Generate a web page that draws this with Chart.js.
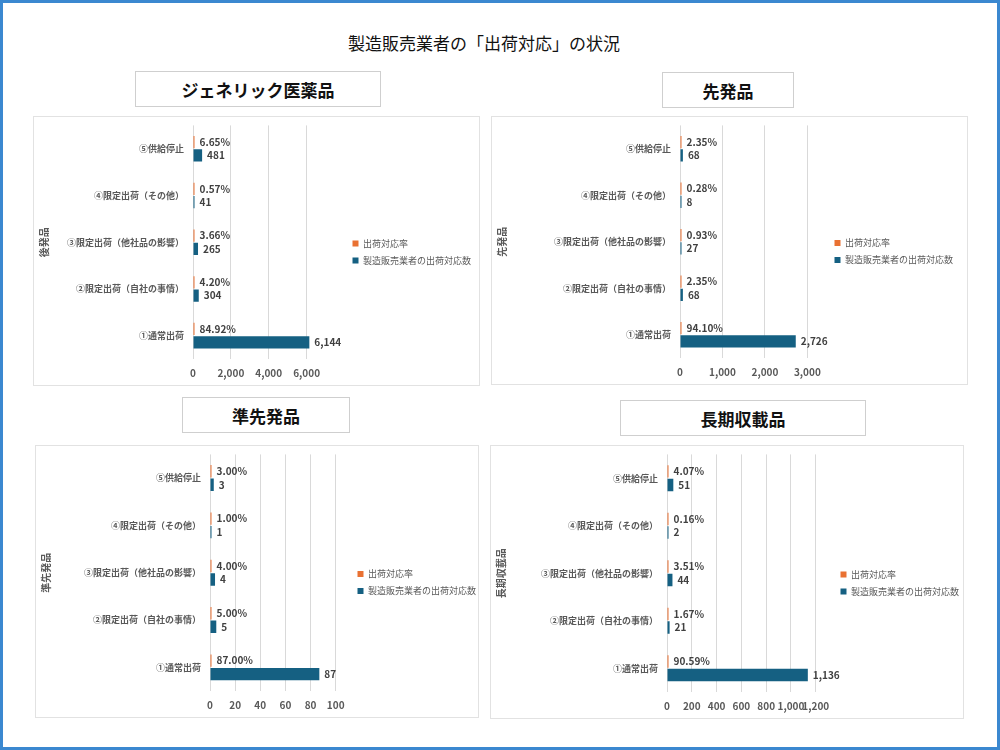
<!DOCTYPE html>
<html lang="ja">
<head>
<meta charset="utf-8">
<title>製造販売業者の「出荷対応」の状況</title>
<script src="https://cdn.jsdelivr.net/npm/chart.js@4.4.1/dist/chart.umd.min.js"></script>
<style>
  body { margin: 0; width: 1000px; height: 750px; position: relative; background: #fff; font-family: "Noto Sans CJK JP", sans-serif; overflow: hidden; }
  #frame { position: absolute; left: 0; top: 0; width: 994px; height: 744px; border: 3px solid #3b88d0; }
  #mainTitle { position: absolute; left: 0; width: 968px; top: 30px; text-align: center; font-size: 17px; color: #111; }
  .ttl { position: absolute; border: 1.5px solid #cfcfcf; box-sizing: border-box; text-align: center; font-weight: bold; font-size: 17px; color: #111; }
  .box { position: absolute; border: 1px solid #e2e2e2; box-sizing: border-box; }
  .box canvas { position: absolute; left: 0; top: 0; }
</style>
</head>
<body>
<div id="frame"></div>
<div id="mainTitle">製造販売業者の「出荷対応」の状況</div>

<div class="ttl" style="left:135px;top:71px;width:246px;height:36px;line-height:36px;">ジェネリック医薬品</div>
<div class="ttl" style="left:662px;top:72px;width:132px;height:36px;line-height:36px;">先発品</div>
<div class="ttl" style="left:182px;top:397px;width:168px;height:36px;line-height:36px;">準先発品</div>
<div class="ttl" style="left:620px;top:400px;width:246px;height:36px;line-height:36px;">長期収載品</div>

<div class="box" style="left:33px;top:116px;width:447px;height:270px;"><canvas id="c1" width="447" height="270"></canvas></div>
<div class="box" style="left:491px;top:116px;width:477px;height:269px;"><canvas id="c2" width="477" height="269"></canvas></div>
<div class="box" style="left:35px;top:445px;width:444px;height:273px;"><canvas id="c3" width="444" height="273"></canvas></div>
<div class="box" style="left:490px;top:445px;width:474px;height:274px;"><canvas id="c4" width="474" height="274"></canvas></div>

<script>
// 区分
const categories = ["①通常出荷", "②限定出荷（自社の事情）", "③限定出荷（他社品の影響）", "④限定出荷（その他）", "⑤供給停止"];
const seriesNames = ["出荷対応率", "製造販売業者の出荷対応数"];

// ジェネリック医薬品（後発品）
const genericRate = [0.8492, 0.0420, 0.0366, 0.0057, 0.0665];
const genericCount = [6144, 304, 265, 41, 481];
const genericTicks = [0, 2000, 4000, 6000];

// 先発品
const brandRate = [0.9410, 0.0235, 0.0093, 0.0028, 0.0235];
const brandCount = [2726, 68, 27, 8, 68];
const brandTicks = [0, 1000, 2000, 3000];

// 準先発品
const quasiRate = [0.87, 0.05, 0.04, 0.01, 0.03];
const quasiCount = [87, 5, 4, 1, 3];
const quasiTicks = [0, 20, 40, 60, 80, 100];

// 長期収載品
const longRate = [0.9059, 0.0167, 0.0351, 0.0016, 0.0407];
const longCount = [1136, 21, 44, 2, 51];
const longTicks = [0, 200, 400, 600, 800, 1000, 1200];

const FONT = '"Noto Sans CJK JP", sans-serif';
const ORANGE = "#e97132";
const BLUE = "#156082";

// 棒の先に値を書く
const valueLabels = {
    id: "valueLabels",
    afterDatasetsDraw(chart) {
        const ctx = chart.ctx;
        ctx.save();
        ctx.font = "bold 10px " + FONT;
        ctx.fillStyle = "#404040";
        ctx.textAlign = "left";
        ctx.textBaseline = "middle";
        chart.data.datasets.forEach((ds, i) => {
            chart.getDatasetMeta(i).data.forEach((bar, j) => {
                const v = ds.data[j];
                const txt = i === 0 ? (v * 100).toFixed(2) + "%" : v.toLocaleString("en-US");
                ctx.fillText(txt, bar.x + 5, bar.y);
            });
        });
        ctx.restore();
    }
};

function makeChart(id, axisTitle, rate, count, ticks, max, yWidth, padRight) {
    return new Chart(document.getElementById(id), {
        type: "bar",
        data: {
            labels: categories,
            datasets: [{
                label: seriesNames[0],
                data: rate,
                backgroundColor: ORANGE,
                minBarLength: 1.5
            }, {
                label: seriesNames[1],
                data: count,
                backgroundColor: BLUE,
                minBarLength: 1.5
            }]
        },
        options: {
            indexAxis: "y",
            responsive: false,
            animation: false,
            devicePixelRatio: 1,
            barPercentage: 0.92,
            categoryPercentage: 0.57,
            layout: { padding: { top: 0, bottom: 0, left: 0, right: padRight } },
            plugins: {
                legend: {
                    position: "right",
                    maxWidth: 170,
                    labels: {
                        boxWidth: 6,
                        boxHeight: 6,
                        padding: 8,
                        color: "#595959",
                        font: { family: FONT, size: 9 }
                    }
                },
                tooltip: { enabled: false }
            },
            scales: {
                x: {
                    min: 0,
                    max: max,
                    afterBuildTicks: (s) => { s.ticks = ticks.map(v => ({ value: v })); },
                    grid: { color: "#d9d9d9", drawTicks: false },
                    border: { display: false },
                    ticks: {
                        padding: 8,
                        maxRotation: 0,
                        autoSkip: false,
                        color: "#595959",
                        font: { family: FONT, size: 10, weight: "bold" },
                        callback: (v) => Number(v).toLocaleString("en-US")
                    }
                },
                y: {
                    reverse: true,
                    afterFit: (s) => { s.width = yWidth; },
                    grid: { display: false, tickLength: 6 },
                    border: { display: false },
                    ticks: {
                        padding: 3,
                        color: "#595959",
                        font: { family: FONT, size: 9, weight: "bold" }
                    },
                    title: {
                        display: true,
                        text: axisTitle,
                        color: "#595959",
                        font: { family: FONT, size: 10, weight: "bold" }
                    }
                }
            }
        },
        plugins: [valueLabels]
    });
}

makeChart("c1", "後発品", genericRate, genericCount, genericTicks, 8000, 159, 0);
makeChart("c2", "先発品", brandRate, brandCount, brandTicks, 3450, 188, 6);
makeChart("c3", "準先発品", quasiRate, quasiCount, quasiTicks, 111, 174, -6);
makeChart("c4", "長期収載品", longRate, longCount, longTicks, 1335, 176, -4);
</script>
</body>
</html>
